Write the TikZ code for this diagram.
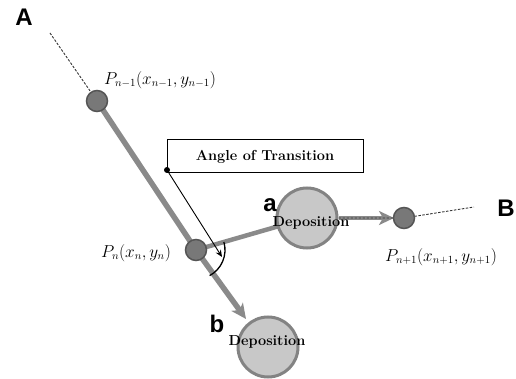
\documentclass[tikz,border=0pt]{standalone}
\usepackage{fontspec}
\usetikzlibrary{arrows.meta}
\newfontfamily\lsans{Liberation Sans}
\definecolor{linegray}{HTML}{8A8A8A}
\definecolor{dotgray}{HTML}{787878}
\definecolor{dotedge}{HTML}{555555}
\definecolor{depfill}{HTML}{C8C8C8}
\definecolor{depedge}{HTML}{838383}
\begin{document}
\begin{tikzpicture}[x=1pt,y=-1pt,
  dot/.style={circle,fill=dotgray,draw=dotedge,line width=1.5pt,minimum size=21pt,inner sep=0pt},
  dep/.style={circle,fill=depfill,draw=depedge,line width=3pt,minimum size=60pt,inner sep=0pt},
  bar/.style={draw=linegray,line width=5.5pt},
  bararrow/.style={bar,-{Stealth[length=15pt,width=14pt,inset=4pt]}},
  dashline/.style={draw=black!80,line width=0.9pt,dash pattern=on 2.5pt off 1.5pt},
  bigletter/.style={font=\lsans\bfseries\fontsize{24}{24}\selectfont,inner sep=0pt},
  deptext/.style={font=\bfseries\fontsize{14.5}{15}\selectfont,inner sep=0pt},
  mathlabel/.style={font=\fontsize{16}{18}\selectfont,inner sep=0pt},
  boxstyle/.style={draw=black,line width=1pt,minimum width=196pt,minimum height=33pt,inner sep=0pt,
    font=\bfseries\fontsize{14.5}{15}\selectfont},
  pointer/.style={draw=black,line width=0.9pt,-{Stealth[length=7pt,width=6pt]}}
]
\useasboundingbox (0,0) rectangle (516,379);

% coordinates
\coordinate (startA) at (50,33);
\coordinate (endB) at (474,207);
\coordinate (tipb) at (246,319);
\coordinate (angtip) at (222,257);

% named points (placed first so connectors can reference them)
\path (97,101) coordinate (cpnm1) (196,250) coordinate (cpn) (404,218) coordinate (cpnp1)
      (307,218) coordinate (cdepa) (268,347) coordinate (cdepb);

% connectors under the nodes
\draw[dashline] (startA) -- (cpnm1);
\draw[bar] (cpnm1) -- (cpn);
\draw[bar,line width=4.5pt] (cpn) -- (cdepa);
\draw[bararrow] (cpn) -- (tipb);

% deposition circles
\node[dep] (depa) at (cdepa) {};
\node[dep] (depb) at (cdepb) {};

% arrow from deposition a to P_{n+1}
\draw[bararrow,line width=4.5pt,shorten >=10pt] (depa) -- (cpnp1);
\draw[dashline] (depa.east) -- (cpnp1) -- (endB);

% points
\node[dot] (pnm1) at (cpnm1) {};
\node[dot] (pn) at (cpn) {};
\node[dot] (pnp1) at (cpnp1) {};

% texts on the circles
\node[deptext] (ta) at (311,223) {Deposition};
\node[deptext] (tb) at (267,342) {Deposition};

% angle box and pointer
\node[boxstyle,fill=white] (angle) at (265,156.5) {Angle of Transition};
\node[circle,fill=black,minimum size=6pt,inner sep=0pt] (angdot) at (167,170) {};
\draw[pointer] (angdot) -- (angtip);
\draw[black,line width=1.3pt] ([shift={(-16:29)}]cpn) arc[start angle=-16,end angle=62,radius=29];

% labels
\node[bigletter] (labA) at (24,17) {A};
\node[bigletter] (labB) at (506,208) {B};
\node[bigletter] (laba) at (270,205) {a};
\node[bigletter] (labb) at (217,324) {b};
\node[mathlabel] (lpnm1) at (160,80) {$P_{n-1}(x_{n-1},y_{n-1})$};
\node[mathlabel] (lpn) at (136,253) {$P_{n}(x_{n},y_{n})$};
\node[mathlabel] (lpnp1) at (441,257) {$P_{n+1}(x_{n+1},y_{n+1})$};
\end{tikzpicture}
\end{document}
